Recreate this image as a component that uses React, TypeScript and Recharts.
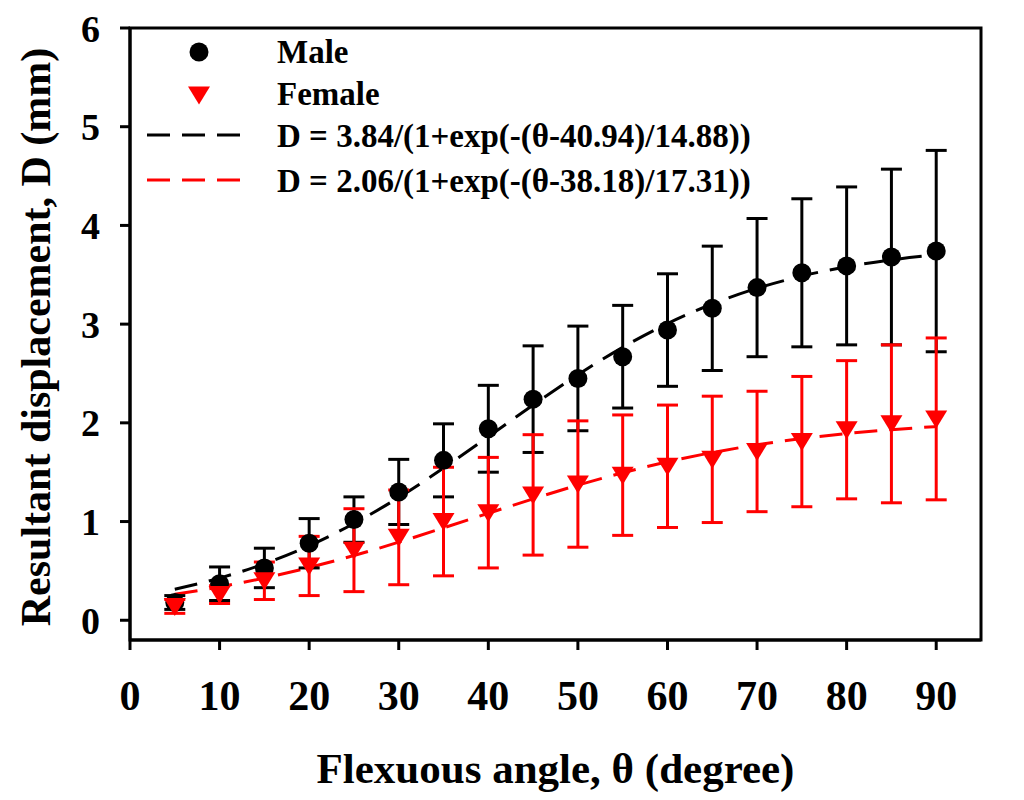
import React from 'react';
import {
  ComposedChart,
  Line,
  Scatter,
  XAxis,
  YAxis,
  ErrorBar,
  ReferenceArea,
  Legend,
} from 'recharts';

// ---------- data ----------
const angles = [5, 10, 15, 20, 25, 30, 35, 40, 45, 50, 55, 60, 65, 70, 75, 80, 85, 90];

const maleMean = [0.18, 0.37, 0.53, 0.78, 1.02, 1.30, 1.62, 1.94, 2.24, 2.45, 2.67, 2.94, 3.16, 3.37, 3.52, 3.59, 3.68, 3.74];
const maleSD = [0.07, 0.17, 0.20, 0.25, 0.23, 0.33, 0.37, 0.44, 0.54, 0.53, 0.52, 0.57, 0.63, 0.70, 0.75, 0.80, 0.89, 1.02];

const femaleMean = [0.14, 0.26, 0.40, 0.55, 0.71, 0.84, 1.00, 1.09, 1.27, 1.38, 1.47, 1.56, 1.63, 1.71, 1.81, 1.93, 1.99, 2.04];
const femaleSD = [0.07, 0.09, 0.19, 0.30, 0.42, 0.48, 0.55, 0.56, 0.61, 0.64, 0.61, 0.62, 0.64, 0.61, 0.66, 0.70, 0.80, 0.82];

// fitted curves as they appear in the figure
const maleFit = [0.315, 0.427, 0.572, 0.755, 0.98, 1.244, 1.542, 1.859, 2.18, 2.487, 2.765, 3.005, 3.204, 3.363, 3.487, 3.581, 3.651, 3.703];
const femaleFit = [0.264, 0.338, 0.428, 0.534, 0.656, 0.791, 0.936, 1.084, 1.23, 1.369, 1.494, 1.605, 1.699, 1.777, 1.841, 1.891, 1.931, 1.962];

const xTicks = [0, 10, 20, 30, 40, 50, 60, 70, 80, 90];
const yTicks = [0, 1, 2, 3, 4, 5, 6];

const legendLabels = [
  'Male',
  'Female',
  'D = 3.84/(1+exp(-(θ-40.94)/14.88))',
  'D = 2.06/(1+exp(-(θ-38.18)/17.31))',
];

const xTitle = 'Flexuous angle, θ (degree)';
const yTitle = 'Resultant displacement, D (mm)';

// ---------- derived tables ----------
const maleData = angles.map((x, i) => ({ x, y: maleMean[i], err: maleSD[i] }));
const femaleData = angles.map((x, i) => ({ x, y: femaleMean[i], err: femaleSD[i] }));
const maleFitData = angles.map((x, i) => ({ x, y: maleFit[i] }));
const femaleFitData = angles.map((x, i) => ({ x, y: femaleFit[i] }));

const FONT = "'Liberation Serif', 'Times New Roman', Times, serif";
const RED = '#ff0000';
const BLACK = '#000000';

const CircleShape = (props: any) => {
  const { cx, cy } = props;
  if (cx == null || cy == null) return null;
  return <circle cx={cx} cy={cy} r={9.5} fill={BLACK} />;
};

const TriangleDown = (props: any) => {
  const { cx, cy } = props;
  if (cx == null || cy == null) return null;
  return (
    <polygon
      points={`${cx - 11},${cy - 8.5} ${cx + 11},${cy - 8.5} ${cx},${cy + 9.5}`}
      fill={RED}
    />
  );
};

const XTitle = (props: any) => {
  const vb = props.viewBox || { x: 0, y: 0, width: 0, height: 0 };
  return (
    <text
      x={vb.x + vb.width / 2}
      y={vb.y + 143}
      textAnchor="middle"
      fontFamily={FONT}
      fontWeight="bold"
      fontSize={43}
      fill={BLACK}
    >
      {xTitle}
    </text>
  );
};

const YTitle = (props: any) => {
  const vb = props.viewBox || { x: 0, y: 0, width: 0, height: 0 };
  const cx = vb.x + 42;
  const cy = vb.y + vb.height / 2 + 3;
  return (
    <text
      x={cx}
      y={cy}
      transform={`rotate(-90, ${cx}, ${cy})`}
      textAnchor="middle"
      fontFamily={FONT}
      fontWeight="bold"
      fontSize={42}
      fill={BLACK}
    >
      {yTitle}
    </text>
  );
};

const LegendContent = () => {
  const textX = 137;
  const textStyle = {
    fontFamily: FONT,
    fontWeight: 'bold' as const,
    fontSize: 33,
    fill: BLACK,
  };
  return (
    <svg width={660} height={180} style={{ display: 'block', overflow: 'visible' }}>
      <circle cx={59} cy={22} r={9.5} fill={BLACK} />
      <text x={textX} y={33} {...textStyle}>{legendLabels[0]}</text>

      <polygon points={`${59 - 11},${65 - 8.5} ${59 + 11},${65 - 8.5} ${59},${65 + 9.5}`} fill={RED} />
      <text x={textX} y={75} {...textStyle}>{legendLabels[1]}</text>

      <line x1={7} y1={105} x2={100} y2={105} stroke={BLACK} strokeWidth={3} strokeDasharray="23 12" />
      <text x={textX} y={117} {...textStyle}>{legendLabels[2]}</text>

      <line x1={7} y1={150} x2={100} y2={150} stroke={RED} strokeWidth={3} strokeDasharray="23 12" />
      <text x={textX} y={162} {...textStyle}>{legendLabels[3]}</text>
    </svg>
  );
};

const tickStyle = { fill: BLACK, fontFamily: FONT, fontWeight: 'bold' };

export default function App() {
  return (
    <div style={{ width: 1000, height: 784, background: '#fff' }}>
      <ComposedChart
        width={1000}
        height={784}
        margin={{ top: 20, right: 27, bottom: 12, left: 0 }}
      >
        <XAxis
          type="number"
          dataKey="x"
          domain={[0, 95]}
          ticks={xTicks}
          interval={0}
          allowDataOverflow
          height={140}
          tickSize={10}
          tickMargin={30}
          axisLine={{ stroke: BLACK, strokeWidth: 3 }}
          tickLine={{ stroke: BLACK, strokeWidth: 3 }}
          tick={{ ...tickStyle, fontSize: 42 }}
          label={<XTitle />}
        />
        <YAxis
          type="number"
          domain={[-0.2, 6]}
          ticks={yTicks}
          interval={0}
          allowDataOverflow
          width={122}
          tickSize={10}
          tickMargin={20}
          axisLine={{ stroke: BLACK, strokeWidth: 3 }}
          tickLine={{ stroke: BLACK, strokeWidth: 3 }}
          tick={{ ...tickStyle, fontSize: 38 }}
          label={<YTitle />}
        />
        <ReferenceArea
          x1={0}
          x2={95}
          y1={-0.2}
          y2={6}
          fill="none"
          fillOpacity={0}
          stroke={BLACK}
          strokeWidth={3}
          ifOverflow="visible"
        />
        <Legend
          verticalAlign="middle"
          align="center"
          layout="horizontal"
          content={<LegendContent />}
          wrapperStyle={{ position: 'absolute', left: 132, top: 22, width: 660, height: 180 }}
        />
        <Line
          data={maleFitData}
          dataKey="y"
          type="monotone"
          stroke={BLACK}
          strokeWidth={3}
          strokeDasharray="23 12"
          dot={false}
          activeDot={false}
          isAnimationActive={false}
          legendType="none"
        />
        <Line
          data={femaleFitData}
          dataKey="y"
          type="monotone"
          stroke={RED}
          strokeWidth={3}
          strokeDasharray="23 12"
          dot={false}
          activeDot={false}
          isAnimationActive={false}
          legendType="none"
        />
        <Scatter
          data={maleData}
          dataKey="y"
          shape={<CircleShape />}
          isAnimationActive={false}
        >
          <ErrorBar dataKey="err" direction="y" width={10.5} stroke={BLACK} strokeWidth={3} />
        </Scatter>
        <Scatter
          data={femaleData}
          dataKey="y"
          shape={<TriangleDown />}
          isAnimationActive={false}
        >
          <ErrorBar dataKey="err" direction="y" width={10.5} stroke={RED} strokeWidth={3} />
        </Scatter>
      </ComposedChart>
    </div>
  );
}
